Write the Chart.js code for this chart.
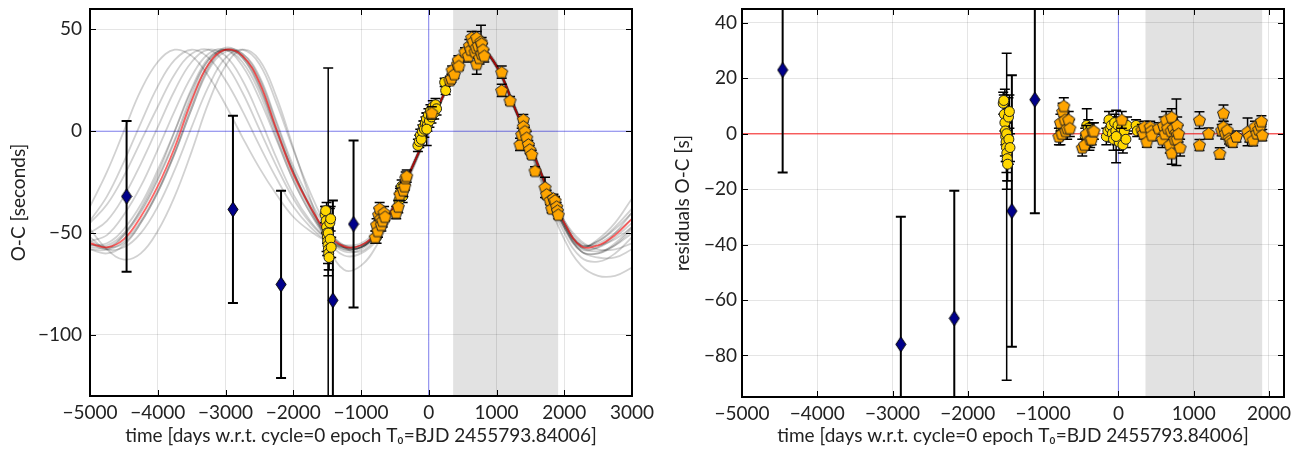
<!DOCTYPE html>
<html lang="en">
<head>
<meta charset="UTF-8">
<title>O-C diagram</title>
<script src="https://cdn.jsdelivr.net/npm/chart.js@4.4.0/dist/chart.umd.min.js"></script>
<style>
  body { margin: 0; background: #fff; }
  #wrap { position: relative; width: 1300px; height: 449px; }
  #wrap canvas { position: absolute; left: 0; top: 0; }
</style>
</head>
<body>
<div id="wrap">
  <canvas id="ocChart" width="1300" height="449"></canvas>
  <canvas id="resChart" width="1300" height="449"></canvas>
</div>
<script>
// ---- values ----
const xLabel = 'time [days w.r.t. cycle=0 epoch T\u2080=BJD 2455793.84006]';
const shadeSpan = [360, 1910];

const ocXTicks = [-5000, -4000, -3000, -2000, -1000, 0, 1000, 2000, 3000];
const ocYTicks = [-100, -50, 0, 50];
const resXTicks = [-5000, -4000, -3000, -2000, -1000, 0, 1000, 2000];
const resYTicks = [-80, -60, -40, -20, 0, 20, 40];

// model curves (days every 250)
const curveDays = [-5000, -4750, -4500, -4250, -4000, -3750, -3500, -3250, -3000, -2750, -2500, -2250, -2000, -1750, -1500, -1250, -1000,
  -750, -500, -250, 0, 250, 500, 750, 1000, 1250, 1500, 1750, 2000, 2250, 2500, 2750, 3000];
const bestFit = [-55, -57, -53, -42, -27, -8, 15, 33, 40, 37, 24, 1, -21, -37, -50, -56.5, -56, -49, -36, -18, 1, 20, 35, 40.5, 32, 13, -7, -28, -45, -56.5, -56, -51, -43];
const draw1 = [-37, -20, 0, 20, 34, 40, 37, 27, 13, -3, -18, -31, -42, -49, -54, -56, -55, -48, -35, -17, 2, 21, 35, 40, 31, 12, -6, -28, -46, -57, -53, -45, -33];
const draw2 = [-45, -36, -22, -5, 12, 28, 38, 40, 33, 19, 1, -17, -33, -45, -53, -57, -56, -49, -36, -18, 1, 20, 35, 40, 32, 13, -7, -29, -47, -58, -57, -50, -40];
const draw3 = [-50, -44, -32, -16, 2, 20, 34, 40, 37, 25, 7, -13, -31, -44, -53, -58, -57, -50, -37, -19, 0, 19, 34, 40, 32, 14, -8, -30, -48, -59, -60, -56, -48];
const draw4 = [-54, -51, -41, -27, -9, 10, 27, 38, 40, 32, 16, -4, -24, -40, -51, -57, -57, -49, -35, -17, 1, 20, 35, 41, 33, 13, -6, -27, -44, -55, -56, -53, -47];
const draw5 = [-56, -55, -48, -36, -19, 0, 20, 35, 40, 36, 21, 0, -20, -37, -50, -56, -56, -49, -36, -18, 1, 20, 35, 40.5, 32, 13, -7, -28, -45, -56, -55, -50, -43];
const draw6 = [-58, -60, -56, -45, -30, -11, 11, 31, 40, 38, 26, 4, -19, -38, -53, -61, -60, -53, -39, -20, 0, 19, 34, 40, 32, 13, -9, -31, -50, -62, -64, -60, -52];
const draw7 = [-52, -58, -57, -50, -37, -19, 2, 22, 36, 40, 33, 14, -9, -30, -47, -57, -59, -51, -37, -18, 1, 20, 35, 41, 32, 14, -7, -27, -44, -54, -58, -58, -55];
const draw8 = [-48, -58, -63, -60, -49, -32, -10, 14, 32, 40, 35, 17, -8, -33, -55, -68, -66, -55, -38, -19, 0, 19, 34, 40, 32, 12, -10, -33, -53, -66, -71, -71, -67];
const draw9 = [-44, -32, -15, 4, 22, 35, 40, 36, 25, 10, -7, -23, -37, -47, -54, -57, -56, -49, -36, -18, 1, 20, 35, 40, 31, 12, -6, -28, -45, -56, -54, -47, -38];
const draw10 = [-57, -57, -51, -40, -24, -5, 16, 33, 41, 37, 23, 1, -20, -37, -51, -58, -57, -50, -37, -18, 1, 20, 35, 41, 33, 14, -8, -29, -47, -59, -62, -62, -58];
const draw11 = [-56, -56, -50, -39, -23, -4, 18, 35, 40, 36, 22, -1, -22, -38, -51, -57, -57, -49, -36, -18, 1, 20, 35, 40.5, 32, 13, -7, -28, -46, -57, -57, -52, -45];
const draw12 = [-54, -57, -55, -45, -30, -11, 11, 30, 39, 38, 27, 5, -17, -34, -48, -56, -57, -50, -37, -18, 1, 20, 35, 40.5, 32, 13, -7, -28, -45, -56, -54, -48, -40];
const draw13 = [-58, -58, -51, -38, -21, 0, 21, 36, 40, 34, 19, -3, -24, -40, -53, -59, -58, -50, -37, -19, 0, 20, 35, 40, 32, 13, -8, -29, -47, -59, -60, -55, -47];
const draw14 = [-55, -58, -54, -44, -29, -10, 13, 32, 40, 37, 25, 2, -20, -36, -50, -57, -57, -49, -36, -18, 1, 20, 35, 40.5, 32, 13, -7, -28, -46, -57, -59, -56, -50];

// old timings (blue diamonds)
const blueDays = [-4460, -2890, -2180, -1415, -1110];
const blueOC = [-32, -38.4, -75.2, -83, -45.6];
const blueErr = [37, 46, 46, 49, 41];
const blueRes = [23, -76, -66.6, -27.9, 12.3];

// yellow circles
const yellowDays = [-1530, -1522, -1515, -1508, -1502, -1497, -1492, -1487, -1484, -1482, -1477, -1472, -1460, -1455, -1448, -1440,
  -770, -755, -440, -420, -400, -385,
  -160, -140, -125, -110, -95, -80, -65, -50, -35, -20, -5, 10, 25, 40, 60, 80, 100, 115, -30,
  235, 250];
const yellowOC = [-41, -39, -44, -47, -50, -52, -54, -56, -50, -58, -60, -62, -45, -53, -43, -57,
  -52, -49, -34, -30, -27, -32,
  -7, -5, -2, -4, 0, 2, 1, 4, 6, 3, 8, 5, 10, 7, 12, 9, 13, 11, 1,
  24, 20];
const yellowErr = [4, 2, 6, 12, 5, 9, 7, 9, 81, 13, 8, 6, 7, 9, 6, 5,
  3, 3, 3, 3, 3, 3,
  3, 3, 3, 3, 3, 3, 4, 3, 3, 3, 3, 3, 3, 3, 3, 3, 3, 3, 8,
  2, 2];
const yellowRes = [11, 12, 7, 4, 1, -1, -3, -5, 0, -7, -9, -11, 6, -2, 8, -5,
  -1, 1, -1, 3, 2, -3,
  -1, 1, 5, 2, 3, 0, -2, 4, 1, -1, 3, -3, 0, 2, -4, 1, -2, 3, -1,
  3, 1];
const yellowResErr = [4, 2, 6, 12, 5, 9, 7, 9, [89, 29], 13, 8, 6, 7, 9, 6, 5,
  3, 3, 3, 6, 3, 3,
  3, 3, 3, 3, 3, 3, 4, 3, 3, 3, 3, 3, 3, 3, 3, 3, 3, 3, 9.5,
  2, 2];

// orange pentagons
const orangeDays = [-790, -770, -750, -740, -725, -710, -700, -680, -660, -645,
  -480, -450, -425, -375, -355, -340, -325,
  45,
  312, 334, 345, 378, 423, 437, 445, 535,
  584, 600, 620, 634, 655, 683, 700, 708, 708, 730, 750, 771, 781, 781, 800, 820,
  1077, 1077, 1200, 1347, 1372, 1396, 1396, 1420, 1446, 1470, 1490, 1520, 1569, 1716, 1740, 1790, 1815, 1840, 1864, 1888, 1900, 1912];
const orangeOC = [-52, -46, -49, -41, -38, -43, -46, -44, -40, -42,
  -40, -37, -31, -29, -27, -23, -22,
  9,
  25, 26, 30, 28, 33, 35, 32, 39,
  37, 42, 40, 46, 44, 39, 41, 46, 33, 42, 36, 44, 43, 38, 40, 37,
  29, 20, 15, -6.5, -1.6, 5.7, 2.4, 0, -3.2, -6.5, -9, -11.4, -19.5, -27.6, -31, -34, -38, -33, -34, -37, -39, -41];
const orangeErr = [3, 3, 3, 3, 3, 2, 3, 3, 3, 2,
  3, 3, 3, 3, 2, 3, 3,
  3,
  2, 2, 2, 2, 2, 2, 2, 2,
  3, 3, 3, 3, 3, 3, 3, 3, 5, 3, 3, 8, 3, 3, 3, 3,
  3, 3, 2, 3, 3, 2.5, 2, 2, 3, 2, 2, 2, 2, 5, 2, 2, 2, 2, 2, 2, 2, 2];
const orangeRes = [-1, 4, 0, 8, 10, 5, 1, 2, 5, 2,
  -5, -4, 0, -2, -2, 1, 1,
  5,
  1.3, 0.1, 2.5, -2.9, 2.5, 1, -0.5, 2,
  -2, 3, 0, 5, 2, -4, 1, 6, -7, 2, -2, 0.5, 3, -2, 0, -5,
  4.9, -4.1, 0.1, -7.1, 1.3, 7.4, 2.5, 0.1, 1.3, -1.7, -2.3, -2.9, -1, 0.7, -1, -2.3, 2.5, 0.1, 1.5, 3.1, 4.5, -0.5];
const orangeResErr = [3, 3, 2, 3, 3, 3, 2, 4, 3, 3,
  3, 2, 3, 3, 2, 3, 3,
  3,
  2, 2, 2, 2, 2, 2, 2, 2,
  3, 3, 3, 3, 3, 3, 3, 3, 4, 3, 3, 12, 3, 3, 3, 3,
  3, 2, 2, 2, 2, 3, 2, 2, 2, 2, 2, 2, 2, 5, 2, 2, 2, 2, 2, 2, 2, 2];

// ---- marker images ----
function thinDiamond() {
  const c = document.createElement('canvas');
  c.width = 12; c.height = 17;
  const g = c.getContext('2d');
  g.beginPath();
  g.moveTo(6, 1); g.lineTo(11, 8.5); g.lineTo(6, 16); g.lineTo(1, 8.5); g.closePath();
  g.fillStyle = '#00008b'; g.fill();
  g.lineWidth = 1; g.strokeStyle = '#000'; g.stroke();
  return c;
}
function pentagon() {
  const c = document.createElement('canvas');
  c.width = 15; c.height = 15;
  const g = c.getContext('2d');
  g.beginPath();
  for (let k = 0; k < 5; k++) {
    const a = -Math.PI / 2 + k * Math.PI * 2 / 5;
    g.lineTo(7.5 + 6.3 * Math.cos(a), 8 + 6.3 * Math.sin(a));
  }
  g.closePath();
  g.fillStyle = '#ffa500'; g.fill();
  g.lineWidth = 1; g.strokeStyle = '#222'; g.stroke();
  return c;
}
const diamondImg = thinDiamond();
const pentaImg = pentagon();

const pts = (xs, ys) => xs.map((v, i) => ({x: v, y: ys[i]}));
const minus = v => v < 0 ? '\u2212' + Math.abs(v) : '' + v;

Chart.defaults.font.family = 'Lato, "DejaVu Sans", sans-serif';
Chart.defaults.font.size = 19;
Chart.defaults.color = '#222';

// shade, error bars, frame with inward ticks
const decor = {
  id: 'decor',
  beforeDraw(chart) {
    const {ctx, chartArea: a, scales: {x}} = chart;
    const x0 = x.getPixelForValue(shadeSpan[0]), x1 = x.getPixelForValue(shadeSpan[1]);
    ctx.save();
    ctx.fillStyle = '#e2e2e2';
    ctx.fillRect(x0, a.top, x1 - x0, a.bottom - a.top);
    ctx.restore();
  },
  beforeDatasetDraw(chart, args) {
    const ds = chart.data.datasets[args.index];
    if (!ds.errs) return;
    const {ctx, chartArea: a, scales: {x, y}} = chart;
    ctx.save();
    ctx.beginPath();
    ctx.rect(a.left, a.top, a.right - a.left, a.bottom - a.top);
    ctx.clip();
    ctx.strokeStyle = '#000';
    ctx.lineWidth = ds.errWidth || 1.5;
    ds.data.forEach((p, i) => {
      const e = ds.errs[i];
      const lo = Array.isArray(e) ? e[0] : e, hi = Array.isArray(e) ? e[1] : e;
      const px = x.getPixelForValue(p.x);
      const y0 = y.getPixelForValue(p.y - lo), y1 = y.getPixelForValue(p.y + hi);
      ctx.beginPath();
      ctx.moveTo(px, y0); ctx.lineTo(px, y1);
      ctx.moveTo(px - 5, y0); ctx.lineTo(px + 5, y0);
      ctx.moveTo(px - 5, y1); ctx.lineTo(px + 5, y1);
      ctx.stroke();
    });
    ctx.restore();
  },
  afterDraw(chart) {
    const {ctx, chartArea: a, scales: {x, y}} = chart;
    ctx.save();
    ctx.strokeStyle = '#000';
    ctx.lineWidth = 1;
    ctx.beginPath();
    x.ticks.forEach(t => {
      const p = Math.round(x.getPixelForValue(t.value)) + 0.5;
      ctx.moveTo(p, a.bottom); ctx.lineTo(p, a.bottom - 6);
      ctx.moveTo(p, a.top); ctx.lineTo(p, a.top + 6);
    });
    y.ticks.forEach(t => {
      const p = Math.round(y.getPixelForValue(t.value)) + 0.5;
      ctx.moveTo(a.left, p); ctx.lineTo(a.left + 6, p);
      ctx.moveTo(a.right, p); ctx.lineTo(a.right - 6, p);
    });
    ctx.stroke();
    ctx.lineWidth = 2;
    ctx.strokeRect(a.left, a.top, a.right - a.left, a.bottom - a.top);
    ctx.restore();
  }
};

function makeScales(xr, xt, yr, yt, yTitle, yw, yTitlePad, yTickPad, xh) {
  return {
    x: {
      type: 'linear', min: xr[0], max: xr[1],
      afterBuildTicks: s => { s.ticks = xt.map(v => ({value: v})); },
      afterFit: s => { s.height = xh; s.paddingLeft = 0; s.paddingRight = 0; },
      ticks: {padding: 5, callback: minus, maxRotation: 0, autoSkip: false},
      grid: {color: 'rgba(0,0,0,0.1)', drawTicks: false},
      border: {display: false},
      title: {display: true, text: xLabel, padding: {top: 0, bottom: 2}}
    },
    y: {
      type: 'linear', min: yr[0], max: yr[1],
      afterBuildTicks: s => { s.ticks = yt.map(v => ({value: v})); },
      afterFit: s => { s.width = yw; s.paddingTop = 0; s.paddingBottom = 0; },
      ticks: {padding: yTickPad, callback: minus, autoSkip: false},
      grid: {color: 'rgba(0,0,0,0.1)', drawTicks: false},
      border: {display: false},
      title: {display: true, text: yTitle, padding: {top: yTitlePad, bottom: 0}}
    }
  };
}

const lineSet = (xs, ys, color, width, order) => ({
  data: pts(xs, ys), showLine: true, pointRadius: 0, borderColor: color,
  borderWidth: width, tension: 0.4, fill: false, order
});

function markerSets(useRes) {
  return [
    {data: pts(orangeDays, useRes ? orangeRes : orangeOC), errs: useRes ? orangeResErr : orangeErr,
      pointStyle: pentaImg, pointRadius: 6, order: 1},
    {data: pts(yellowDays, useRes ? yellowRes : yellowOC), errs: useRes ? yellowResErr : yellowErr,
      pointStyle: 'circle', pointRadius: 5, pointBackgroundColor: '#ffd700', pointBorderColor: '#222',
      pointBorderWidth: 1, order: 2},
    {data: pts(blueDays, useRes ? blueRes : blueOC), errs: blueErr, errWidth: 2,
      pointStyle: diamondImg, pointRadius: 7, order: 3}
  ];
}

const drawCurves = [draw1, draw2, draw3, draw4, draw5, draw6, draw7, draw8, draw9, draw10, draw11, draw12, draw13, draw14];

const ocRange = [-5000, 3000], ocY = [-130, 60];
new Chart(document.getElementById('ocChart'), {
  type: 'scatter',
  data: {
    datasets: [
      ...markerSets(false),
      lineSet(curveDays, bestFit, 'rgba(255,0,0,0.6)', 1.8, 4),
      ...drawCurves.map(c => lineSet(curveDays, c, 'rgba(0,0,0,0.18)', 1.8, 5)),
      lineSet(ocRange, [0, 0], 'rgba(0,0,255,0.45)', 1, 6),
      lineSet([0, 0], ocY, 'rgba(0,0,255,0.45)', 1, 6)
    ]
  },
  options: {
    responsive: false, animation: false, events: [],
    layout: {padding: {left: 0, top: 9, right: 668, bottom: 0}},
    plugins: {legend: {display: false}, tooltip: {enabled: false}},
    scales: makeScales(ocRange, ocXTicks, ocY, ocYTicks, 'O-C [seconds]', 90, 7, 8, 53)
  },
  plugins: [decor]
});

const resRange = [-5000, 2200], resY = [-95, 45];
new Chart(document.getElementById('resChart'), {
  type: 'scatter',
  data: {
    datasets: [
      ...markerSets(true),
      lineSet(resRange, [0, 0], 'rgba(255,0,0,0.6)', 1.5, 4),
      lineSet([0, 0], resY, 'rgba(0,0,255,0.45)', 1, 6)
    ]
  },
  options: {
    responsive: false, animation: false, events: [],
    layout: {padding: {left: 650, top: 9, right: 16, bottom: 0}},
    plugins: {legend: {display: false}, tooltip: {enabled: false}},
    scales: makeScales(resRange, resXTicks, resY, resYTicks, 'residuals O-C [s]', 92, 21, 5, 52)
  },
  plugins: [decor]
});
</script>
</body>
</html>
